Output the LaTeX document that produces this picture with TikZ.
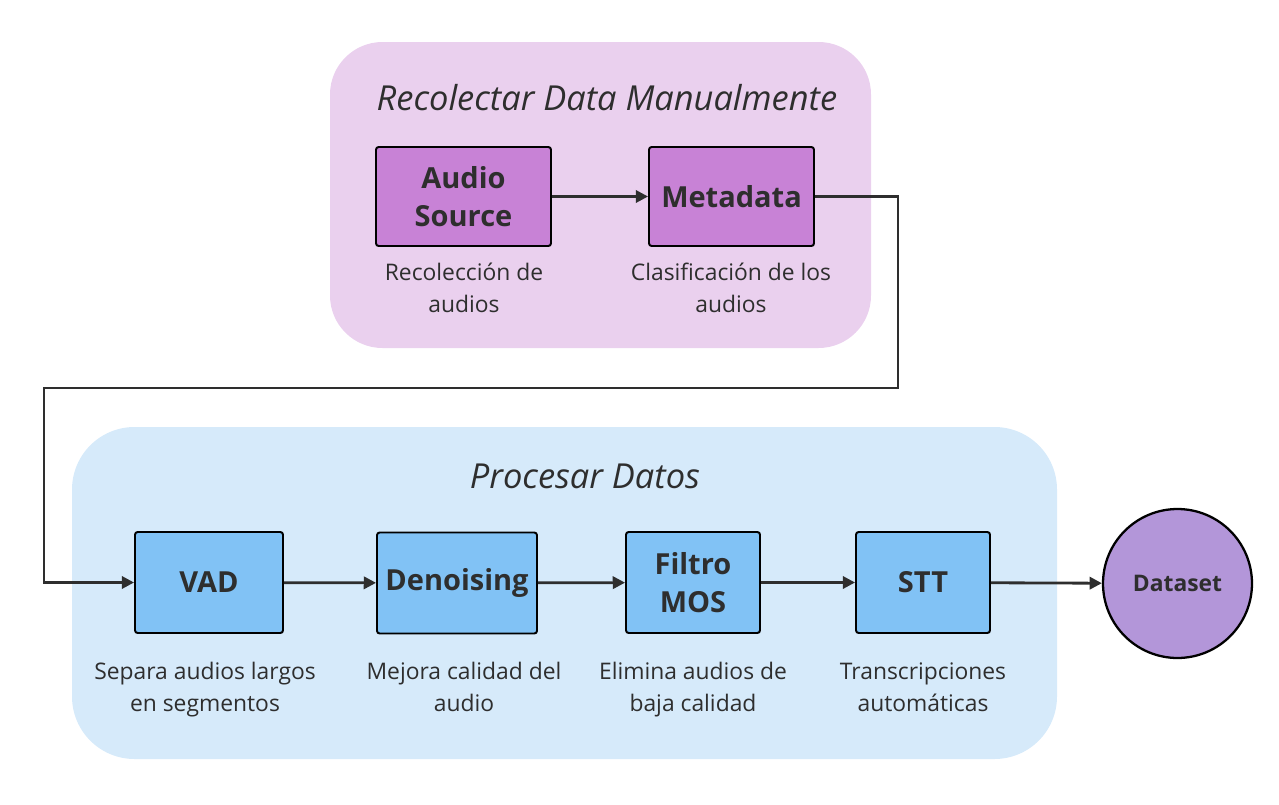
\documentclass[tikz,border=0pt]{standalone}
\usepackage{fontspec}
\setmainfont{Open Sans}
\usetikzlibrary{arrows.meta}
\definecolor{lilabg}{HTML}{EAD0EE}
\definecolor{lilabox}{HTML}{C882D6}
\definecolor{azulbg}{HTML}{D6EAFA}
\definecolor{azulbox}{HTML}{81C2F5}
\definecolor{moradods}{HTML}{B396D9}
\definecolor{linea}{HTML}{2E2E2E}

\begin{document}
\begin{tikzpicture}[x=0.02cm,y=-0.02cm,
  caja/.style={draw=black,line width=1.1pt,rounded corners=1.5pt,align=center,
    font=\fontsize{16.5}{21.5}\selectfont\bfseries,text=linea},
  leyenda/.style={align=center,font=\fontsize{13}{18.2}\selectfont,text=linea,
    execute at begin node=\strut,execute at end node=\strut},
  titulo/.style={font=\fontsize{19.6}{24}\selectfont\itshape,text=linea},
  flecha/.style={draw=linea,line width=1.6pt,-{Triangle[length=7pt,width=7pt]}}]
\useasboundingbox (0,0) rectangle (1279,805);
\fill [lilabg, rounded corners=1.05cm] (330,42) rectangle (871,348);
\fill [azulbg, rounded corners=1.25cm] (72,427) rectangle (1057,759);
\node [titulo] (t0) at (607,98) {Recolectar Data Manualmente};
\node [titulo] (t1) at (585,476) {Procesar Datos};
\node [caja, fill=lilabox, minimum width=3.5cm, minimum height=1.98cm] (audio) at (463.5,196.5) {Audio\\Source};
\node [caja, fill=lilabox, minimum width=3.3cm, minimum height=1.98cm] (meta) at (731.5,196.5) {Metadata};
\node [leyenda] (c0) at (464,293) {Recolección de\\audios};
\node [leyenda] (c1) at (731,293) {Clasificación de los\\audios};
\node [caja, fill=azulbox, minimum width=2.96cm, minimum height=2.02cm] (vad) at (209,582.5) {VAD};
\node [caja, fill=azulbox, minimum width=3.2cm, minimum height=2.02cm] (denoise) at (457,583) {Denoising};
\node [caja, fill=azulbox, minimum width=2.68cm, minimum height=2.02cm] (mos) at (693,582.5) {Filtro\\MOS};
\node [caja, fill=azulbox, minimum width=2.68cm, minimum height=2.02cm] (stt) at (923,582.5) {STT};
\node [leyenda] (c2) at (205,692) {Separa audios largos\\en segmentos};
\node [leyenda] (c3) at (464,692) {Mejora calidad del\\audio};
\node [leyenda] (c4) at (693,692) {Elimina audios de\\baja calidad};
\node [leyenda] (c5) at (923,692) {Transcripciones\\automáticas};
\node [circle, draw=black, line width=1.3pt, fill=moradods, minimum size=2.98cm, text=linea,
  font=\fontsize{13}{16}\selectfont\bfseries] (dataset) at (1177.5,583.5) {Dataset};
\coordinate (k0) at (898,388);
\coordinate (k1) at (44,388);
\draw [flecha] (audio) -- (meta);
\draw [flecha] (meta.east) -| (k0) -- (k1) |- (vad.west);
\draw [flecha] (vad) -- (denoise);
\draw [flecha] (denoise) -- (mos);
\draw [flecha] (mos) -- (stt);
\draw [flecha] (stt) -- (dataset);
\end{tikzpicture}
\end{document}
